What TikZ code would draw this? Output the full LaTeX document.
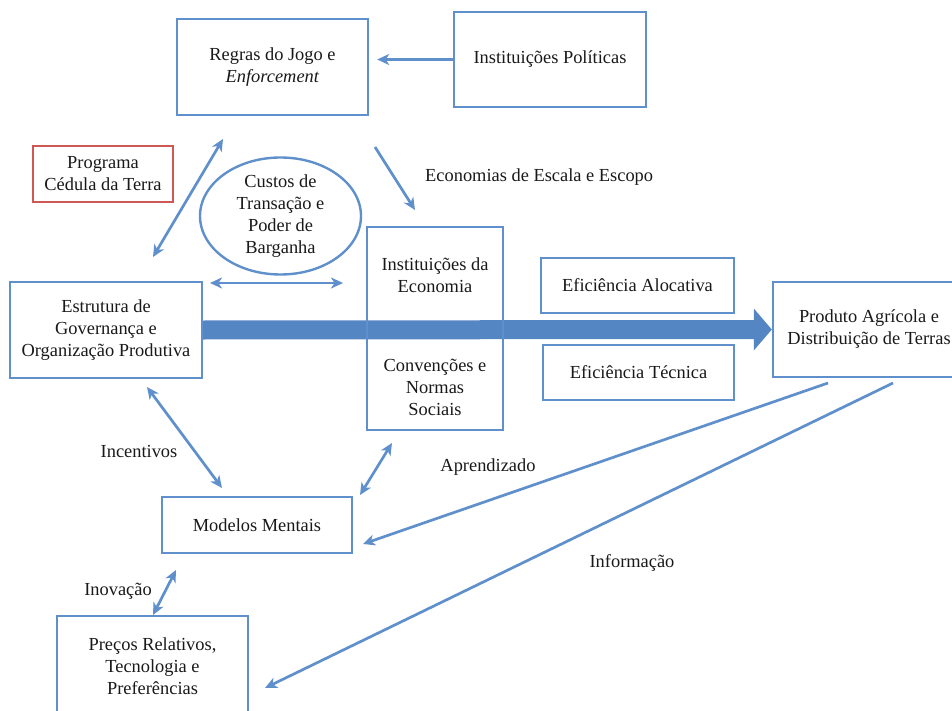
\documentclass[tikz,border=0pt]{standalone}
\usepackage{fontspec}
\setmainfont{Liberation Serif}
\usetikzlibrary{arrows.meta,shapes.geometric,calc}
\definecolor{lb}{RGB}{95,144,203}
\definecolor{af}{RGB}{84,134,195}
\definecolor{rd}{RGB}{205,88,84}
\definecolor{tx}{RGB}{25,25,25}
\pgfdeclarelayer{bg}\pgfsetlayers{bg,main}
\begin{document}
\begin{tikzpicture}[x=1pt,y=-1pt,
  font=\fontsize{18.4}{22}\selectfont, text=tx,
  box/.style={draw=lb,line width=2.4pt,align=center,inner sep=0pt},
  redbox/.style={box,draw=rd},
  tip/.tip={Stealth[length=12pt,width=11pt,inset=3.5pt]},
  conn/.style={draw=lb,line width=2.7pt,-tip},
  dconn/.style={draw=lb,line width=2.7pt,tip-tip},
  lbl/.style={inner sep=0pt,align=center}]
\useasboundingbox (0,0) rectangle (952,711);

% boxes
\node[box,minimum width=191,minimum height=96] (regras) at (272.5,67)
  {Regras do Jogo e\\\textit{Enforcement}};
\node[box,minimum width=192,minimum height=95] (pol) at (550,59.5)
  {Instituições Políticas};
\node[redbox,minimum width=140,minimum height=56] (prog) at (103,174)
  {Programa\\Cédula da Terra};
\node[box,ellipse,minimum width=161,minimum height=116] (cust) at (280.5,216)
  {Custos de\\Transação e\\Poder de\\Barganha};
\node[box,minimum width=192,minimum height=96] (estr) at (106,330)
  {Estrutura de\\Governança e\\Organização Produtiva};
\node[box,minimum width=136,minimum height=203] (inst) at (435,328.5) {};
\node[lbl] (ie) at (435,275.5) {Instituições da\\Economia};
\node[lbl] (cn) at (435,387.5) {Convenções e\\Normas\\Sociais};
\node[box,minimum width=193,minimum height=55] (aloc) at (637.5,285.5)
  {Eficiência Alocativa};
\node[box,minimum width=191,minimum height=55] (tec) at (638.5,372.5)
  {Eficiência Técnica};
\node[box,minimum width=192,minimum height=95] (prod) at (869,329.5)
  {Produto Agrícola e\\Distribuição de Terras};
\node[box,minimum width=190,minimum height=56] (mod) at (257,525)
  {Modelos Mentais};
\node[box,minimum width=191,minimum height=100] (prec) at (152.5,666)
  {Preços Relativos,\\Tecnologia e\\Preferências};

% labels
\node[lbl,anchor=west] (econ) at (425,177) {Economias de Escala e Escopo};
\node[lbl] (inc) at (139,451) {Incentivos};
\node[lbl] (apr) at (488,467) {Aprendizado};
\node[lbl] (inov) at (118,591) {Inovação};
\node[lbl] (info) at (632,563) {Informação};

% big arrow
\begin{pgfonlayer}{bg}
\path (estr.east) coordinate (a0) (prod.west) coordinate (a1);
\fill[af]
  ($(a0)+(0,-9.5)$) -- ($(a1)+(-18,-9.5)$) -- ($(a1)+(-18,-21)$) -- (a1)
  -- ($(a1)+(-18,21)$) -- ($(a1)+(-18,9.5)$) -- ($(a0)+(0,9.5)$) -- cycle;
\end{pgfonlayer}

% connector end points
\coordinate (e1a) at (153,257);  \coordinate (e1b) at (223,139);
\coordinate (e2a) at (375,147);  \coordinate (e2b) at (415,210);
\coordinate (e3a) at (210,283);  \coordinate (e3b) at (343,283);
\coordinate (e4a) at (147,387);  \coordinate (e4b) at (222,488);
\coordinate (e5a) at (360,495);  \coordinate (e5b) at (392,443);
\coordinate (e6a) at (828,383);  \coordinate (e6b) at (363,544);
\coordinate (e7a) at (893,383);  \coordinate (e7b) at (265,688);
\coordinate (e8a) at (176,570);  \coordinate (e8b) at (153,615);

% connectors
\draw[conn,shorten >=8pt] (pol.west) -- (pol.west -| regras.east);
\draw[dconn] (e1a) -- (e1b);
\draw[conn] (e2a) -- (e2b);
\draw[dconn] (e3a) -- (e3b);
\draw[dconn] (e4a) -- (e4b);
\draw[dconn] (e5a) -- (e5b);
\draw[conn] (e6a) -- (e6b);
\draw[conn] (e7a) -- (e7b);
\draw[dconn] (e8a) -- (e8b);
\end{tikzpicture}
\end{document}
